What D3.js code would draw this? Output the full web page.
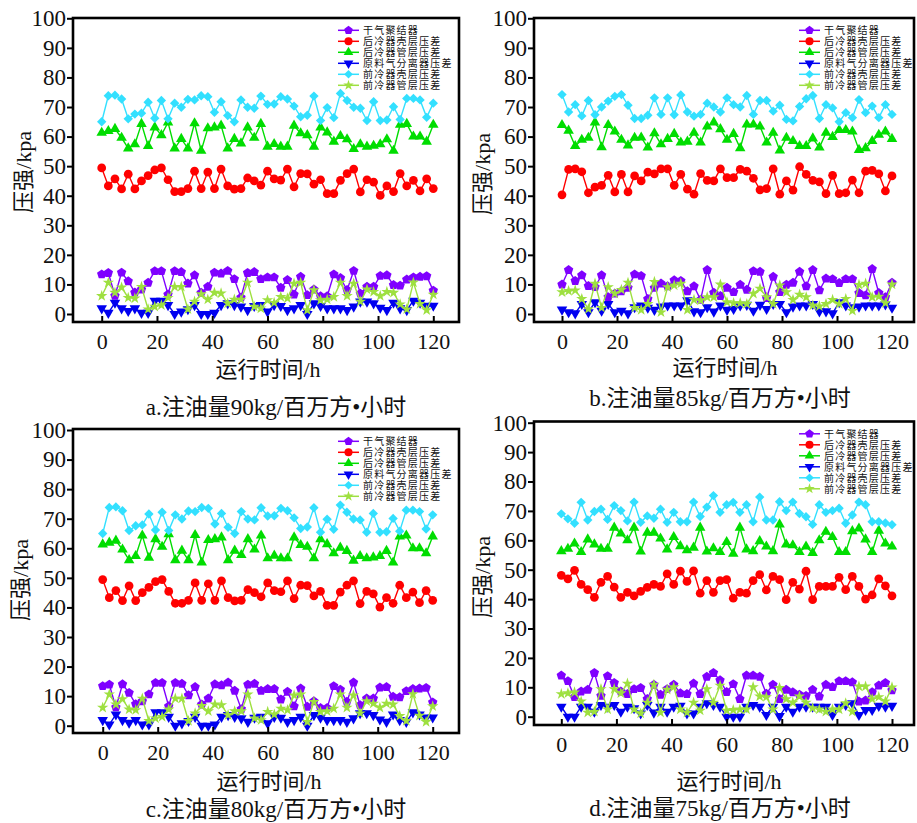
<!DOCTYPE html>
<html>
<head>
<meta charset="utf-8">
<script src="https://cdn.jsdelivr.net/npm/d3@7.9.0/dist/d3.min.js"></script>
<style>
  body { margin: 0; background: #fff; }
  svg { display: block; }
  text { font-family: "Liberation Serif", "Noto Sans CJK SC", serif; fill: #111; }
</style>
</head>
<body>
<svg id="chart" width="917" height="823"></svg>
<script>
// sampling times (h) and tick values
const hours = d3.range(51).map(i => i * 2.4);
const xTicks = [0, 20, 40, 60, 80, 100, 120];
const yTicks = [0, 10, 20, 30, 40, 50, 60, 70, 80, 90, 100];
const seriesNames = ["干气聚结器", "后冷器壳层压差", "后冷器管层压差", "原料气分离器压差", "前冷器壳层压差", "前冷器管层压差"];
const captions = ["a.注油量90kg/百万方•小时", "b.注油量85kg/百万方•小时", "c.注油量80kg/百万方•小时", "d.注油量75kg/百万方•小时"];

// panel a (90 kg)
const violetA = [13.4,13.9,6.2,14,11.1,7.3,8.3,10.6,14.5,14.5,6.6,14.5,14.2,10.3,13.1,7.2,9.2,14,13.7,14.6,11.8,5.6,13.9,14.2,11.8,12.4,12.4,8.9,11.5,6.6,12.6,6.4,8.3,6,6,13.4,12.2,8.1,14.6,6.9,9.2,9.2,12.9,13.1,9.8,9.6,11.7,12.4,12.6,12.8,7.9];
const redA = [49.4,43.3,45.7,42.3,47.3,42.3,45,46.8,48.7,49.4,45.4,41.4,41.4,42.4,48.3,42.4,48,42.4,49,43.3,42.2,42.4,46,45,43.6,48.3,45.7,45.3,49,43,47.5,47.4,43.9,45.4,40.7,40.7,45.2,47.5,49,41.3,45.4,44.6,40.1,43.3,41.4,47.5,43.3,45.2,41.6,45.7,42.4];
const greenA = [61.3,61.9,62.6,59.6,56,57.4,64.3,56.8,63.1,60.5,64.8,56,59.2,56,64.5,55.2,62.8,63.1,63.7,56,59.2,57.7,63.1,59.6,64.3,56.6,57.5,56.6,56.6,63.7,61.1,60.5,56.6,63.1,61.4,58.3,60.2,59.1,55.8,57.4,56.6,56.9,57.4,59.1,55.2,64,64.3,60,60,58.3,64];
const blueA = [1.9,0.4,3.8,1.9,1,1.9,0.4,0.4,4.5,4.5,3,0,0.8,1.6,3,0,0,0.4,3,3.6,3,2.5,1.3,2.7,3,0.8,3,2.7,1.3,1.9,3,0,3.6,2.7,1.9,1.9,1.9,1.3,2.5,4.2,4.2,3.6,2.1,1.3,3.8,1.9,1.3,4.5,3.8,2.8,2.8];
const cyanA = [65,73.8,74,72.7,66,67.6,67.9,71.6,66.2,72.2,66,71.3,69.9,72.6,72.4,73.8,73.5,68.2,71.8,67.1,65,72.4,69.9,69.6,73.7,70.9,71,73.5,72.7,70.3,66.7,67.2,73.7,65.4,69.8,66.4,74.6,72.2,69.9,69.6,65.4,71.8,65.4,65.6,70.1,65.8,72.9,72.9,72.4,66.5,71.3];
const limeA = [6.1,10.6,7.2,9,5.5,5.3,9.2,1.6,2.5,3,5.5,9.2,9.2,1.6,4.2,6.7,4.9,7.2,7,3.6,4.9,4.9,10.6,2.5,1.9,4.7,3.8,5.8,5.3,10.3,10.6,1.3,8.1,4.7,4.9,5.8,10.6,6.1,10.3,4.2,8.3,7.5,6.1,7.5,7.2,3.3,1.6,10.7,3.4,1.3,6.6];

// panel b (85 kg)
const violetB = [10,14.9,11.2,13.1,9.5,9.1,13.1,5.7,6.9,7.7,8.9,13.4,12.9,5.1,8.9,10.3,9.4,11.4,11.2,7.7,9.4,4.8,14.9,7.2,6.1,8.9,7.4,9.9,8.2,14.5,14.3,5.4,12.6,7.4,9.9,10.6,14.3,9.4,14.9,8,12,11.8,10.5,11.8,11.8,7.1,6.3,15.2,7.1,5.7,10.6];
const redB = [40.3,48.9,49.1,48.1,41,42.9,43.5,46.9,41.3,47.2,41.3,46.7,45,48,47.4,49.1,49.1,43.5,47.2,42.2,40.5,47.5,45.2,45,49.1,46.1,46.1,48.9,48.3,45.9,42,42.4,49.1,40.5,45,41.9,49.8,47.2,45.2,44.7,40.7,46.9,40.7,41,45.3,41,48.3,48.6,47.4,41.6,46.7];
const greenB = [63.9,62,56.8,58.9,59.6,64.8,56.4,63.9,61.7,58.9,57,59.6,59.7,56.3,61.1,57.4,59.2,60.9,58,58.3,61.3,58,63.4,64.8,62.5,58.9,60.9,56.1,64.1,64.1,63.4,58,61.3,55.3,59.6,58.5,56.8,56.8,59.4,56.3,61.3,59.9,62.2,62.2,61.7,55.5,56.1,58.5,60.6,61.7,59.2];
const blueB = [1.5,0.6,0.2,3.4,0.6,4,1.1,3.4,0.6,1.1,0.2,2.3,2.9,2.1,1.4,2.5,2.9,2.9,2.9,4.6,0.9,0.6,2.3,0.8,2.9,1.4,1.7,2.9,3.1,1.1,3.1,1.7,3.4,3.4,0.6,2.5,2.9,2.9,3.4,0.9,0.9,0.2,4,2.9,2.3,2.5,2.9,2.9,2.9,3.2,2.1];
const cyanB = [74.2,68.3,70.8,67,72.2,67.4,70,72,73.6,74.2,70.6,66.1,66.1,67.2,73.1,67.5,73.1,67.4,74.1,68.3,66.9,67.5,71.3,70,68.3,73.1,70.8,70,73.9,67.5,72.2,72.2,68.6,70.6,65.8,65.3,70.2,72.8,73.9,66.1,70.8,69.7,65,68.1,66.4,72.5,68.1,70.3,66.4,70.8,67.5];
const limeB = [7.4,7.8,8,5.1,1.7,10.3,2.1,9.1,6.9,8.2,10.6,2.1,1.4,3.4,10.9,0.6,9.1,9.7,10.3,1.4,4.8,4.6,5.7,5.7,10,4,3.7,3.7,3.4,6.9,8.6,5.7,3.4,9.7,7.4,4.8,6.6,5.7,2.9,2.6,3.4,4.8,3.4,5.1,1.1,9.9,10.3,5.7,5.9,3.7,10];

// panel c (80 kg) - plotted values are identical to panel a in the source figure
const violetC = violetA, redC = redA, greenC = greenA, blueC = blueA, cyanC = cyanA, limeC = limeA;

// panel d (75 kg)
const violetD = [14,12.1,6.7,8.6,9.2,14.9,7.1,13.8,11.5,8.6,7.7,9.4,9.8,6,10.9,7.5,9.4,10.9,8,7.7,11.3,7.7,13.6,14.9,12.4,8.4,11.1,6,14,14,13.6,7.8,10.9,6,9.2,8.3,7.5,7.1,9.2,6.9,10.9,10.1,12.1,12.1,11.7,5.2,5.5,8.3,10.6,11.5,9];
const redD = [48.1,46.9,49.8,45,43.2,40.6,45.7,47.7,44.1,40.6,42.3,41.1,42.6,44,45,44.3,48.6,45,49.5,46,49.6,42,46.3,42.3,46.3,46.6,40.3,42.3,42,46.3,48.3,43.1,47.7,46.6,39.8,45.7,43.4,49.5,39.8,44.3,44.3,44.3,47.4,43.2,47.7,44.3,40,41.4,46.9,44.5,41.1];
const greenD = [56.3,57.1,58.9,56,60.3,58.6,57.1,57.1,64.3,62.3,60,64.3,56.2,62.6,62.6,60.6,56.9,61.1,58,56.6,57.5,64.3,56.2,57.3,56,59.4,55.4,64.3,56.9,56.3,59.7,57.9,56.3,65.4,58.6,58.3,56,57.9,55.7,60,62.9,61.1,56,56,63.1,64,60.3,56,63.3,58.9,57.9];
const blueD = [3.4,0,0,3.4,3.4,1.7,4,3.4,4,1.7,3.4,2.9,1.1,4,1.4,3.4,1.7,3.4,3.7,1.1,1.1,3.4,4.6,4,3.4,0,0,0,3.4,4,3.4,0.6,3.4,0.2,3.4,1.7,3.4,3.4,3.4,3.4,3.4,0.6,3.4,4,4.6,0.6,2.3,2.3,3.7,3.4,3.7];
const cyanD = [69,67.3,65.8,72.9,66.9,69.8,70.6,67.1,71.8,70.1,66.6,73,66.1,68.3,67.5,70.6,66.1,69.5,66.3,66.3,73,68.1,71.3,75.2,69.5,72.1,72.9,69.5,72.1,66.3,74.7,66.9,66.9,73.1,70.1,73,69.1,68,65.4,72.1,69.5,70.1,70.9,65.8,68.6,73,72.1,66.3,66.3,65.9,65.3];
const limeD = [7.7,8,8.3,5.2,1.4,1.7,9.4,2.5,9.4,8,11.3,2.5,1.1,4.8,10.9,1.4,9.2,10.1,2.5,1.4,4.8,2.1,9.4,4.8,10.6,2.1,2.3,2.5,2.5,10.1,6.9,6.7,2.5,9.8,6,4.8,6.9,4.8,2.9,2.5,1.7,2.5,2.5,4.6,1.7,10.3,10.3,6,6.7,5.2,10];

const colors = ["#7f00ff", "#ff0000", "#00dd00", "#0000f0", "#33e0ff", "#9ee040"];

// pentagon marker (d3 has none)
const pentagon = {
  draw(ctx, size) {
    const r = Math.sqrt(size / 2.378);
    for (let k = 0; k < 5; k++) {
      const a = -Math.PI / 2 + k * 2 * Math.PI / 5;
      if (k === 0) ctx.moveTo(r * Math.cos(a), r * Math.sin(a));
      else ctx.lineTo(r * Math.cos(a), r * Math.sin(a));
    }
    ctx.closePath();
  }
};
const markers = [
  { type: pentagon, size: 58, rot: 0 },
  { type: d3.symbolCircle, size: 60, rot: 0 },
  { type: d3.symbolTriangle, size: 48, rot: 0 },
  { type: d3.symbolTriangle, size: 48, rot: 180 },
  { type: d3.symbolSquare, size: 44, rot: 45 },
  { type: d3.symbolStar, size: 40, rot: 0 }
];

const panels = [
  { series: [violetA, redA, greenA, blueA, cyanA, limeA], frame: [73, 18, 459, 322], xr: [101.7, 433.3], yr: [314, 18.3],
    yTitle: [23, 172], xTitle: [268, 369], cap: [276, 407] },
  { series: [violetB, redB, greenB, blueB, cyanB, limeB], frame: [534, 18, 914, 322], xr: [562, 892], yr: [314, 18.3],
    yTitle: [482, 174], xTitle: [725, 367], cap: [720, 398] },
  { series: [violetC, redC, greenC, blueC, cyanC, limeC], frame: [73, 429, 459, 733], xr: [102.7, 432.7], yr: [725.7, 430],
    yTitle: [20, 580], xTitle: [269, 781], cap: [276, 809] },
  { series: [violetD, redD, greenD, blueD, cyanD, limeD], frame: [534, 421.5, 914, 725], xr: [561.3, 892], yr: [716.7, 422.7],
    yTitle: [482, 577], xTitle: [729, 781], cap: [720, 808] }
];

const svg = d3.select("#chart");

panels.forEach((p, pi) => {
  const [fl, ft, fr, fb] = p.frame;
  const x = d3.scaleLinear().domain([0, 120]).range(p.xr);
  const y = d3.scaleLinear().domain([0, 100]).range(p.yr);
  const g = svg.append("g");

  // series: line then markers
  p.series.forEach((vals, si) => {
    const pts = vals.map((v, i) => [hours[i], v]);
    g.append("path")
      .attr("d", d3.line().x(d => x(d[0])).y(d => y(d[1]))(pts))
      .attr("fill", "none")
      .attr("stroke", colors[si])
      .attr("stroke-width", 1.4);
    const m = markers[si];
    g.append("g").selectAll("path")
      .data(pts)
      .join("path")
      .attr("d", d3.symbol(m.type, m.size))
      .attr("transform", d => `translate(${x(d[0])},${y(d[1])}) rotate(${m.rot})`)
      .attr("fill", colors[si]);
  });

  // frame
  g.append("rect")
    .attr("x", fl).attr("y", ft)
    .attr("width", fr - fl).attr("height", fb - ft)
    .attr("fill", "none").attr("stroke", "#000").attr("stroke-width", 2.6);

  // y axis (outward ticks)
  const ya = g.append("g").attr("transform", `translate(${fl},0)`)
    .call(d3.axisLeft(y).tickValues(yTicks).tickSize(6).tickPadding(1));
  ya.select(".domain").remove();
  ya.selectAll("line").attr("stroke-width", 2);
  ya.selectAll("text").attr("font-size", 23).attr("font-family", "Liberation Serif").attr("fill", "#111");

  // x axis (inward ticks)
  const xa = g.append("g").attr("transform", `translate(0,${fb})`)
    .call(d3.axisBottom(x).tickValues(xTicks).tickSizeInner(-6).tickSizeOuter(0).tickPadding(11));
  xa.select(".domain").remove();
  xa.selectAll("line").attr("stroke-width", 2);
  xa.selectAll("text").attr("font-size", 22).attr("font-family", "Liberation Serif").attr("fill", "#111");

  // legend
  const lx = fl + 265, ly = ft + 12.3;
  seriesNames.forEach((name, si) => {
    const yy = ly + si * 11;
    g.append("line").attr("x1", lx).attr("x2", lx + 21).attr("y1", yy).attr("y2", yy)
      .attr("stroke", colors[si]).attr("stroke-width", 1.5);
    const m = markers[si];
    g.append("path").attr("d", d3.symbol(m.type, m.size * 0.85)())
      .attr("transform", `translate(${lx + 10.5},${yy}) rotate(${m.rot})`)
      .attr("fill", colors[si]);
    g.append("text").attr("x", lx + 25).attr("y", yy).attr("dy", "0.38em")
      .attr("font-size", 10).attr("letter-spacing", 1.2).attr("fill", "#444")
      .attr("font-family", "Noto Sans CJK SC")
      .text(name);
  });

  // axis titles and caption
  g.append("text")
    .attr("transform", `translate(${p.yTitle[0]},${p.yTitle[1]}) rotate(-90)`)
    .attr("text-anchor", "middle").attr("dy", "0.35em").attr("font-size", 22)
    .text("压强/kpa");
  g.append("text")
    .attr("x", p.xTitle[0]).attr("y", p.xTitle[1]).attr("dy", "0.35em")
    .attr("text-anchor", "middle").attr("font-size", 22)
    .text("运行时间/h");
  g.append("text")
    .attr("x", p.cap[0]).attr("y", p.cap[1]).attr("dy", "0.35em")
    .attr("text-anchor", "middle").attr("font-size", 23)
    .text(captions[pi]);
});
</script>
</body>
</html>
